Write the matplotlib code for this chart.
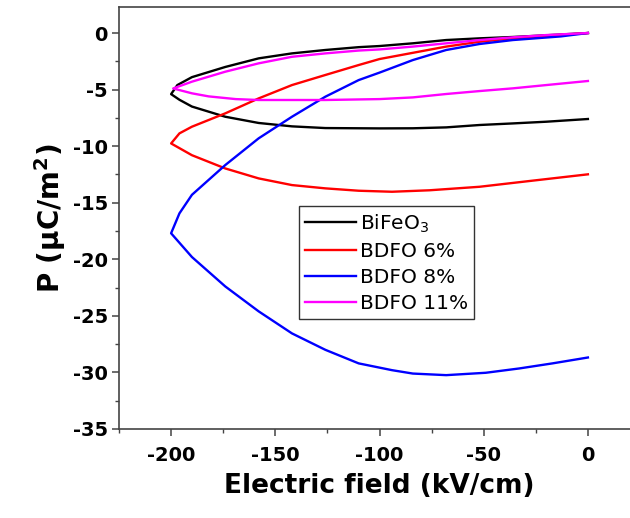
import matplotlib
matplotlib.use("Agg")
import matplotlib.pyplot as plt
from matplotlib.ticker import MultipleLocator
import numpy as np

plt.rcParams['font.family'] = ['DejaVu Sans']
plt.rcParams['mathtext.fontset'] = 'dejavusans'
plt.rcParams['axes.unicode_minus'] = False

labels = ['BiFeO$_3$', 'BDFO 6%', 'BDFO 8%', 'BDFO 11%']
colors = ['#000000', '#ff0000', '#0000ff', '#ff00ff']

# upper branches (0 -> -200) and lower branches (-200 -> 0)
bfo_up_x = [0, -20, -36, -52, -68, -84, -100, -110, -126, -142, -158, -174, -190, -197, -200]
bfo_up_p = [0, -0.2, -0.35, -0.47, -0.62, -0.91, -1.15, -1.25, -1.5, -1.8, -2.24, -3.0, -3.9, -4.6, -5.4]
bfo_low_x = [-200, -196, -190, -174, -158, -142, -126, -100, -84, -68, -52, -36, -20, 0]
bfo_low_p = [-5.4, -5.9, -6.5, -7.4, -7.95, -8.25, -8.4, -8.43, -8.42, -8.34, -8.13, -7.99, -7.84, -7.6]

b6_up_x = [0, -20, -36, -52, -68, -84, -100, -110, -126, -142, -158, -174, -190, -196, -200]
b6_up_p = [0, -0.27, -0.47, -0.77, -1.2, -1.75, -2.3, -2.83, -3.71, -4.6, -5.78, -7.1, -8.28, -8.87, -9.76]
b6_low_x = [-200, -190, -174, -158, -142, -126, -110, -94, -76, -52, -28, 0]
b6_low_p = [-9.76, -10.8, -11.97, -12.85, -13.44, -13.73, -13.94, -14.03, -13.9, -13.59, -13.08, -12.49]

b8_up_x = [0, -13, -36, -52, -68, -84, -100, -110, -126, -142, -158, -174, -190, -196, -200]
b8_up_p = [0, -0.3, -0.62, -0.97, -1.5, -2.39, -3.5, -4.16, -5.63, -7.4, -9.31, -11.67, -14.3, -15.94, -17.7]
b8_low_x = [-200, -190, -174, -158, -142, -126, -110, -94, -84, -68, -49, -33, -17, 0]
b8_low_p = [-17.7, -19.8, -22.4, -24.6, -26.55, -28.0, -29.2, -29.8, -30.1, -30.24, -30.03, -29.65, -29.2, -28.68]

b11_up_x = [0, -20, -36, -52, -68, -84, -100, -110, -126, -142, -158, -174, -190, -199]
b11_up_p = [0, -0.18, -0.38, -0.62, -0.91, -1.2, -1.45, -1.55, -1.8, -2.1, -2.68, -3.42, -4.3, -4.9]
b11_low_x = [-199, -190, -182, -169, -158, -126, -100, -84, -68, -52, -36, -20, 0]
b11_low_p = [-4.9, -5.33, -5.6, -5.84, -5.92, -5.92, -5.84, -5.69, -5.39, -5.13, -4.89, -4.6, -4.24]

series = [
    (bfo_up_x + bfo_low_x, bfo_up_p + bfo_low_p),
    (b6_up_x + b6_low_x, b6_up_p + b6_low_p),
    (b8_up_x + b8_low_x, b8_up_p + b8_low_p),
    (b11_up_x + b11_low_x, b11_up_p + b11_low_p),
]

fig = plt.figure(figsize=(6.3, 5.18), dpi=100)
ax = fig.add_axes([119/630, 89/518, 521/630, 422/518])

for (x, p), c, lab in zip(series, colors, labels):
    ax.plot(x, p, color=c, lw=1.7, label=lab)

ax.set_xlim(-225, 25)
ax.set_ylim(-35, 2.3)
ax.set_xticks([-200, -150, -100, -50, 0])
ax.xaxis.set_minor_locator(MultipleLocator(25))
ax.set_yticks(np.arange(-35, 0.1, 5))
ax.yaxis.set_minor_locator(MultipleLocator(2.5))

for s in ax.spines.values():
    s.set_color('#444444')
    s.set_linewidth(1.2)
ax.tick_params(which='major', direction='out', length=5, width=1.1, color='#444444',
               labelsize=14)
ax.tick_params(which='minor', direction='out', length=3, width=1.0, color='#444444')
ax.tick_params(axis='x', which='major', pad=7)
ax.tick_params(axis='y', which='major', pad=3)
for t in ax.get_xticklabels() + ax.get_yticklabels():
    t.set_fontweight('bold')

ax.set_xlabel('Electric field (kV/cm)', fontsize=19, fontweight='bold', labelpad=6)
ax.set_ylabel(r'P (μC/m$^\mathbf{2}$)', fontsize=20, fontweight='bold', labelpad=3)

leg = ax.legend(loc='upper left', bbox_to_anchor=(0.346, 0.528), borderaxespad=0,
                fontsize=14.5, frameon=True, fancybox=False, framealpha=1,
                edgecolor='#333333', handlelength=2.5, handletextpad=0.2,
                labelspacing=0.36, borderpad=0.3)
leg.get_frame().set_linewidth(1.0)

fig.savefig('out.png', dpi=100)
